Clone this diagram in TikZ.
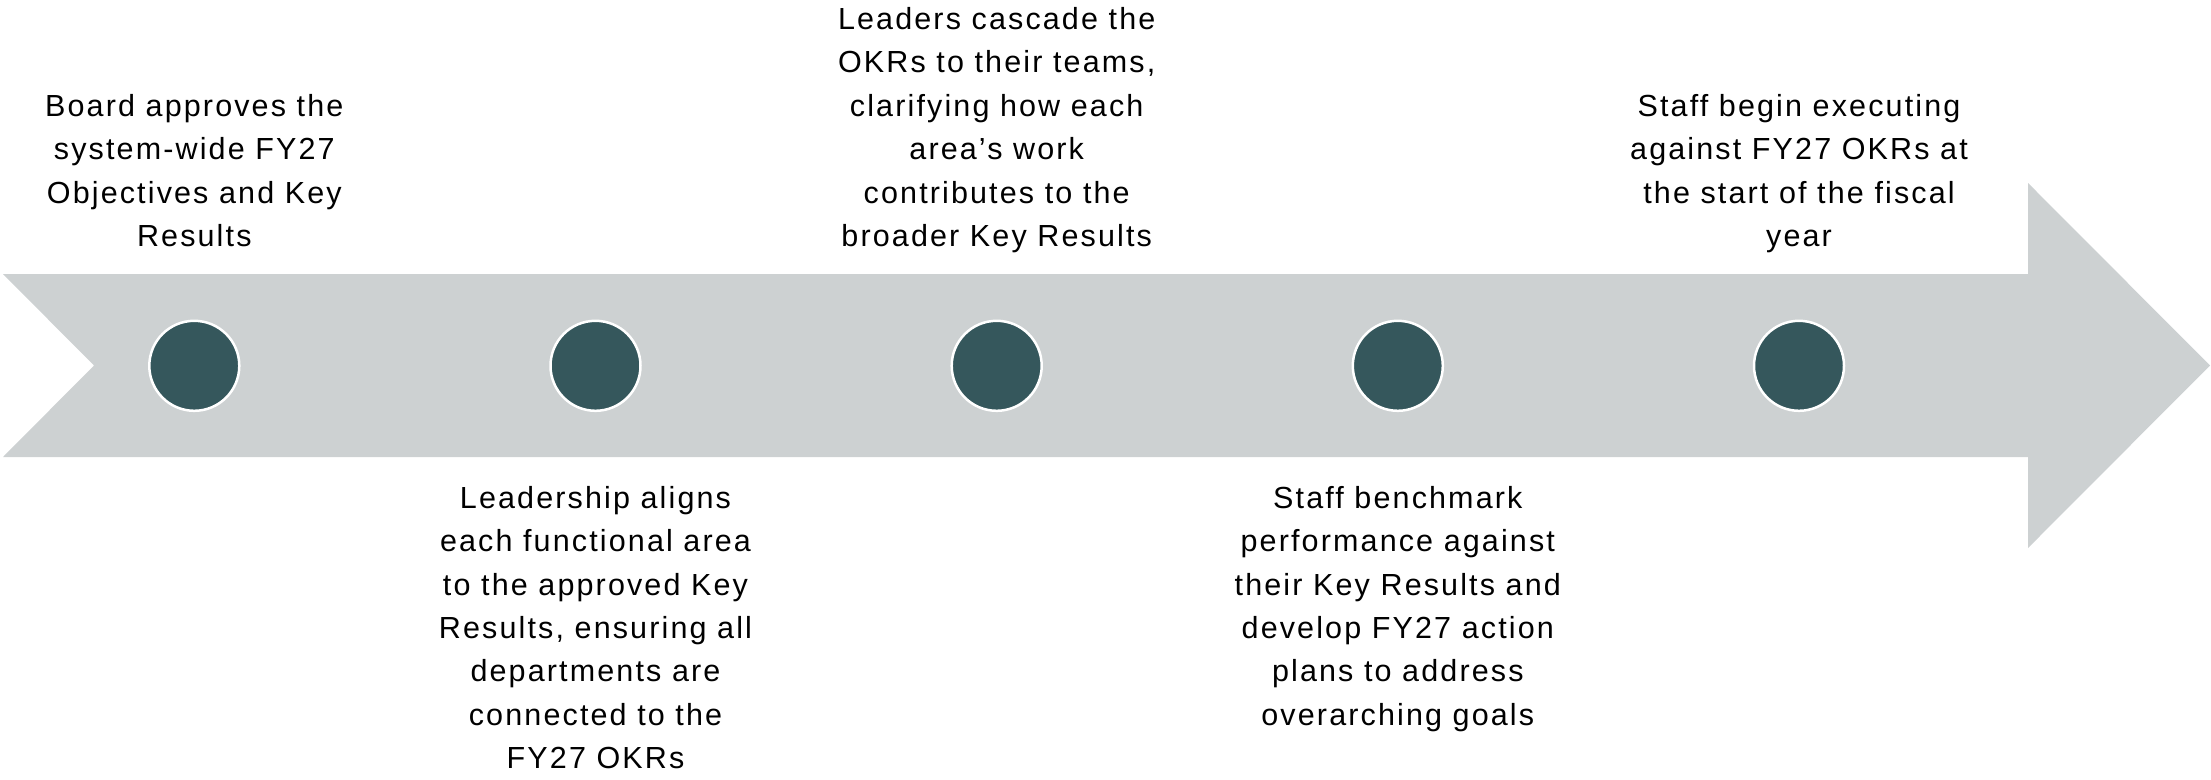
\documentclass[tikz,border=0pt]{standalone}
\usepackage{fontspec}
\setmainfont{Liberation Sans}[LetterSpace=7]
\definecolor{band}{HTML}{CDD1D2}
\definecolor{dot}{HTML}{35575C}
\begin{document}
\begin{tikzpicture}[x=1pt, y=-1pt,
  milestone/.style={circle, fill=dot, draw=white, line width=2.5pt,
    minimum size=90pt, inner sep=0pt},
  note/.style={align=center, inner sep=0pt, anchor=base,
    font=\fontsize{30.5}{43.4}\selectfont}]
\useasboundingbox (0,0) rectangle (2211,779);

% timeline band with notched tail and arrow head
\fill[band] (3,274) -- (2028,274) -- (2028,183) -- (2210,365.5)
  -- (2028,548) -- (2028,457) -- (3,457) -- (94,365.5) -- cycle;

% milestones
\foreach \i/\x in {1/194.3, 2/595.5, 3/996.7, 4/1397.8, 5/1799}
  \node[milestone] (m\i) at (\x,365.8) {};

% descriptions (base anchor = baseline of the last line)
\node[note] (t1) at (m1 |- 0,246.5) {Board approves the\\system-wide FY27\\Objectives and Key\\Results};
\node[note] (t2) at (m2 |- 0,768.7) {Leadership aligns\\each functional area\\to the approved Key\\Results, ensuring all\\departments are\\connected to the\\FY27 OKRs};
\node[note] (t3) at (m3 |- 0,246.5) {Leaders cascade the\\OKRs to their teams,\\clarifying how each\\area’s work\\contributes to the\\broader Key Results};
\node[note] (t4) at (m4 |- 0,725.3) {Staff benchmark\\performance against\\their Key Results and\\develop FY27 action\\plans to address\\overarching goals};
\node[note] (t5) at (m5 |- 0,246.5) {Staff begin executing\\against FY27 OKRs at\\the start of the fiscal\\year};
\end{tikzpicture}
\end{document}
